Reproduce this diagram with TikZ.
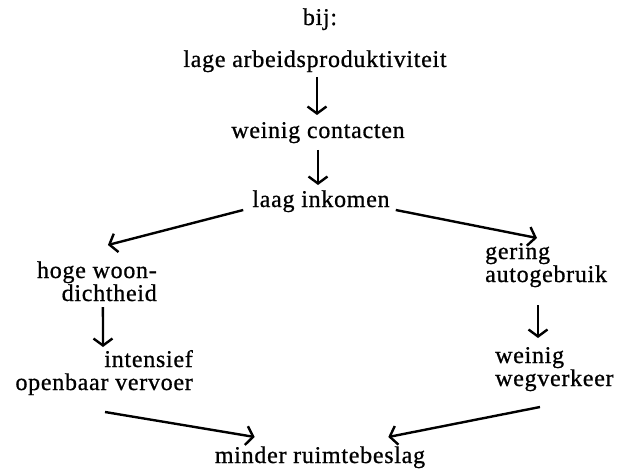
\documentclass[tikz,border=0pt]{standalone}
\usepackage{fontspec}
\setmainfont[FakeBold=0.8,LetterSpace=3]{Liberation Serif}
\usepackage{tikz}
\usetikzlibrary{arrows.meta}

\begin{document}
\begin{tikzpicture}[x=1pt,y=-1pt,>={Straight Barb[length=7pt,width=19pt]}]
    \tikzset{
        lbl/.style={inner sep=0pt, font={\fontsize{24}{23}\selectfont}},
        arr/.style={->, line width=2.4pt}
    }
    \useasboundingbox (0,0) rectangle (620,473);

    % Nodes
    \node[lbl, anchor=base] (bij) at (320,25) {bij:};
    \node[lbl, anchor=base] (lage) at (315,67) {lage arbeidsproduktiviteit};
    \node[lbl, anchor=base] (contacten) at (318,138) {weinig contacten};
    \node[lbl, anchor=base] (inkomen) at (321,207) {laag inkomen};
    \node[lbl, anchor=base east, align=right] (woon) at (157,301) {hoge woon-\\dichtheid};
    \node[lbl, anchor=base west, align=left] (gering) at (485,282) {gering\\autogebruik};
    \node[lbl, anchor=base east, align=right] (vervoer) at (193,390) {intensief\\openbaar vervoer};
    \node[lbl, anchor=base west, align=left] (wegverkeer) at (495,386) {weinig\\wegverkeer};
    \node[lbl, anchor=base] (minder) at (320,463) {minder ruimtebeslag};

    % Arrows
    \draw[arr] ([xshift=2pt,yshift=-10pt]lage.base) -- ([xshift=-1pt,yshift=23pt]contacten.base);
    \draw[arr] ([yshift=-12pt]contacten.base) -- ([xshift=-3pt,yshift=22pt]inkomen.base);
    \draw[arr] ([xshift=-9pt,yshift=-3pt]inkomen.base west) -- ([xshift=11pt,yshift=56pt]woon.base);
    \draw[arr] ([xshift=6pt,yshift=-3pt]inkomen.base east) -- ([xshift=52pt,yshift=44pt]gering.base west);
    \draw[arr] ([xshift=6pt,yshift=-6pt]woon.base) -- ([xshift=-90pt,yshift=43pt]vervoer.base east);
    \draw[arr] ([xshift=53pt,yshift=-23pt]gering.base west) -- ([xshift=43pt,yshift=48pt]wegverkeer.base west);
    \draw[arr] ([xshift=-88pt,yshift=-22pt]vervoer.base east) -- ([xshift=40pt,yshift=26pt]minder.base west);
    \draw[arr] ([xshift=45pt,yshift=-21pt]wegverkeer.base west) -- ([xshift=-37pt,yshift=26pt]minder.base east);
\end{tikzpicture}
\end{document}
